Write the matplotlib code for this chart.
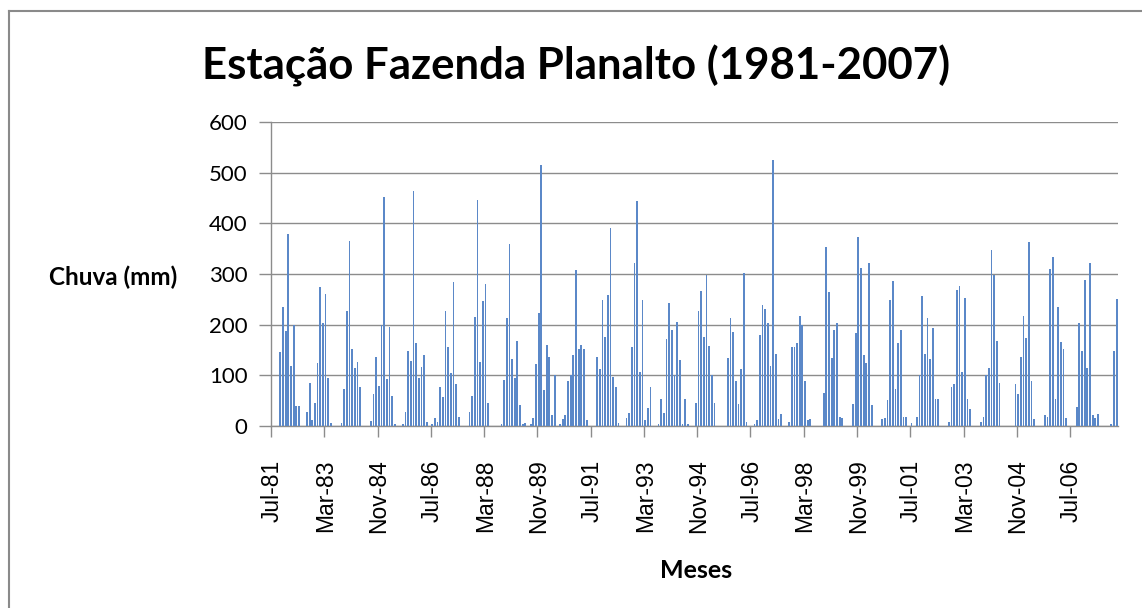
import matplotlib.pyplot as plt
import numpy as np

# Chuva mensal (mm), Jul-81 a Dez-07
chuva_1981 = [0, 0, 0, 147, 234, 188]  # Jul-Dez
chuva_1982 = [378, 119, 200, 39, 39, 0, 0, 28, 84, 11, 46, 125]
chuva_1983 = [274, 203, 260, 94, 5, 0, 0, 0, 5, 74, 226, 366]
chuva_1984 = [152, 115, 126, 76, 0, 0, 0, 10, 63, 137, 79, 199]
chuva_1985 = [451, 92, 195, 59, 3, 0, 0, 3, 28, 148, 128, 464]
chuva_1986 = [163, 94, 117, 140, 8, 0, 3, 16, 8, 76, 57, 226]
chuva_1987 = [155, 104, 284, 82, 18, 0, 0, 0, 28, 59, 216, 447]
chuva_1988 = [127, 246, 281, 46, 0, 0, 0, 0, 3, 90, 213, 360]
chuva_1989 = [132, 94, 168, 41, 4, 5, 0, 3, 16, 122, 224, 515]
chuva_1990 = [72, 160, 137, 21, 100, 0, 3, 13, 21, 89, 100, 140]
chuva_1991 = [307, 152, 160, 151, 11, 0, 0, 0, 137, 112, 249, 175]
chuva_1992 = [259, 391, 97, 76, 5, 0, 0, 16, 26, 155, 322, 444]
chuva_1993 = [107, 249, 11, 36, 76, 0, 0, 3, 53, 26, 171, 242]
chuva_1994 = [190, 100, 206, 130, 3, 53, 3, 0, 0, 46, 226, 266]
chuva_1995 = [175, 298, 157, 100, 46, 0, 0, 0, 0, 134, 213, 186]
chuva_1996 = [89, 43, 112, 302, 8, 0, 0, 3, 11, 180, 238, 231]
chuva_1997 = [203, 119, 525, 142, 13, 23, 0, 0, 8, 155, 155, 163]
chuva_1998 = [218, 200, 89, 11, 13, 0, 0, 0, 0, 66, 353, 264]
chuva_1999 = [135, 190, 203, 18, 16, 0, 0, 0, 43, 183, 373, 312]
chuva_2000 = [140, 125, 322, 41, 0, 0, 0, 13, 16, 51, 248, 287]
chuva_2001 = [74, 163, 190, 18, 18, 0, 5, 0, 18, 100, 257, 142]
chuva_2002 = [213, 132, 193, 53, 53, 0, 0, 0, 8, 76, 82, 269]
chuva_2003 = [277, 107, 252, 53, 34, 0, 0, 0, 8, 18, 100, 115]
chuva_2004 = [348, 298, 168, 84, 0, 0, 0, 0, 0, 82, 64, 137]
chuva_2005 = [218, 173, 363, 89, 13, 0, 0, 0, 21, 18, 310, 333]
chuva_2006 = [53, 234, 165, 152, 16, 0, 0, 0, 38, 203, 148, 289]
chuva_2007 = [115, 322, 21, 16, 23, 0, 0, 0, 0, 3, 148, 251]

anos = [chuva_1981, chuva_1982, chuva_1983, chuva_1984, chuva_1985, chuva_1986,
        chuva_1987, chuva_1988, chuva_1989, chuva_1990, chuva_1991, chuva_1992,
        chuva_1993, chuva_1994, chuva_1995, chuva_1996, chuva_1997, chuva_1998,
        chuva_1999, chuva_2000, chuva_2001, chuva_2002, chuva_2003, chuva_2004,
        chuva_2005, chuva_2006, chuva_2007]
chuva = np.concatenate(anos)

rotulos_x = ['Jul-81', 'Mar-83', 'Nov-84', 'Jul-86', 'Mar-88', 'Nov-89', 'Jul-91',
             'Mar-93', 'Nov-94', 'Jul-96', 'Mar-98', 'Nov-99', 'Jul-01', 'Mar-03',
             'Nov-04', 'Jul-06']
passo_rotulo = 20
yticks = [0, 100, 200, 300, 400, 500, 600]

W, H = 1142, 608
fig = plt.figure(figsize=(W / 100, H / 100), dpi=100)
ax = fig.add_axes([271 / W, 1 - 426 / H, 847 / W, 304 / H])

x = np.arange(len(chuva))
ax.bar(x, chuva, width=0.66, color='#5b88c8', edgecolor='none', zorder=3)

ax.set_xlim(-0.5, len(chuva) - 0.5)
ax.set_ylim(0, 600)

# grade e eixos no estilo Excel
grid_c = '#8c8c8c'
ax.set_yticks(yticks)
ax.set_yticklabels([str(v) for v in yticks], fontsize=16, family='Lato')
ax.yaxis.grid(True, color=grid_c, linewidth=1.0, zorder=0)
ax.tick_params(axis='y', length=9, width=1, color=grid_c, pad=8)

pos_rot = np.arange(len(rotulos_x)) * passo_rotulo
ax.set_xticks(pos_rot)
ax.set_xticklabels(rotulos_x, rotation=90, fontsize=16.5, family='Liberation Sans')
ax.set_xticks(np.arange(0, len(chuva), passo_rotulo) - 0.5, minor=True)
ax.tick_params(axis='x', which='major', length=0, pad=24)
ax.tick_params(axis='x', which='minor', length=8, width=1, color=grid_c)

for s in ['top', 'right']:
    ax.spines[s].set_visible(False)
for s in ['left', 'bottom']:
    ax.spines[s].set_color(grid_c)
    ax.spines[s].set_linewidth(1.0)

fig.text(576 / W, 1 - 66 / H, 'Estação Fazenda Planalto (1981-2007)',
         fontsize=31.5, fontweight='bold', family='Lato', ha='center', va='center')
fig.text(113 / W, 1 - 277 / H, 'Chuva (mm)', fontsize=17.5, fontweight='bold',
         family='Lato', ha='center', va='center')
fig.text(696 / W, 1 - 570 / H, 'Meses', fontsize=18, fontweight='bold',
         family='Lato', ha='center', va='center')

# borda da area do grafico
fig.add_artist(plt.Line2D([9 / W, 1], [1 - 11 / H, 1 - 11 / H], color='#8a8a8a', lw=1.5))
fig.add_artist(plt.Line2D([9 / W, 9 / W], [0, 1 - 11 / H], color='#8a8a8a', lw=1.5))

fig.savefig('out.png', dpi=100)
